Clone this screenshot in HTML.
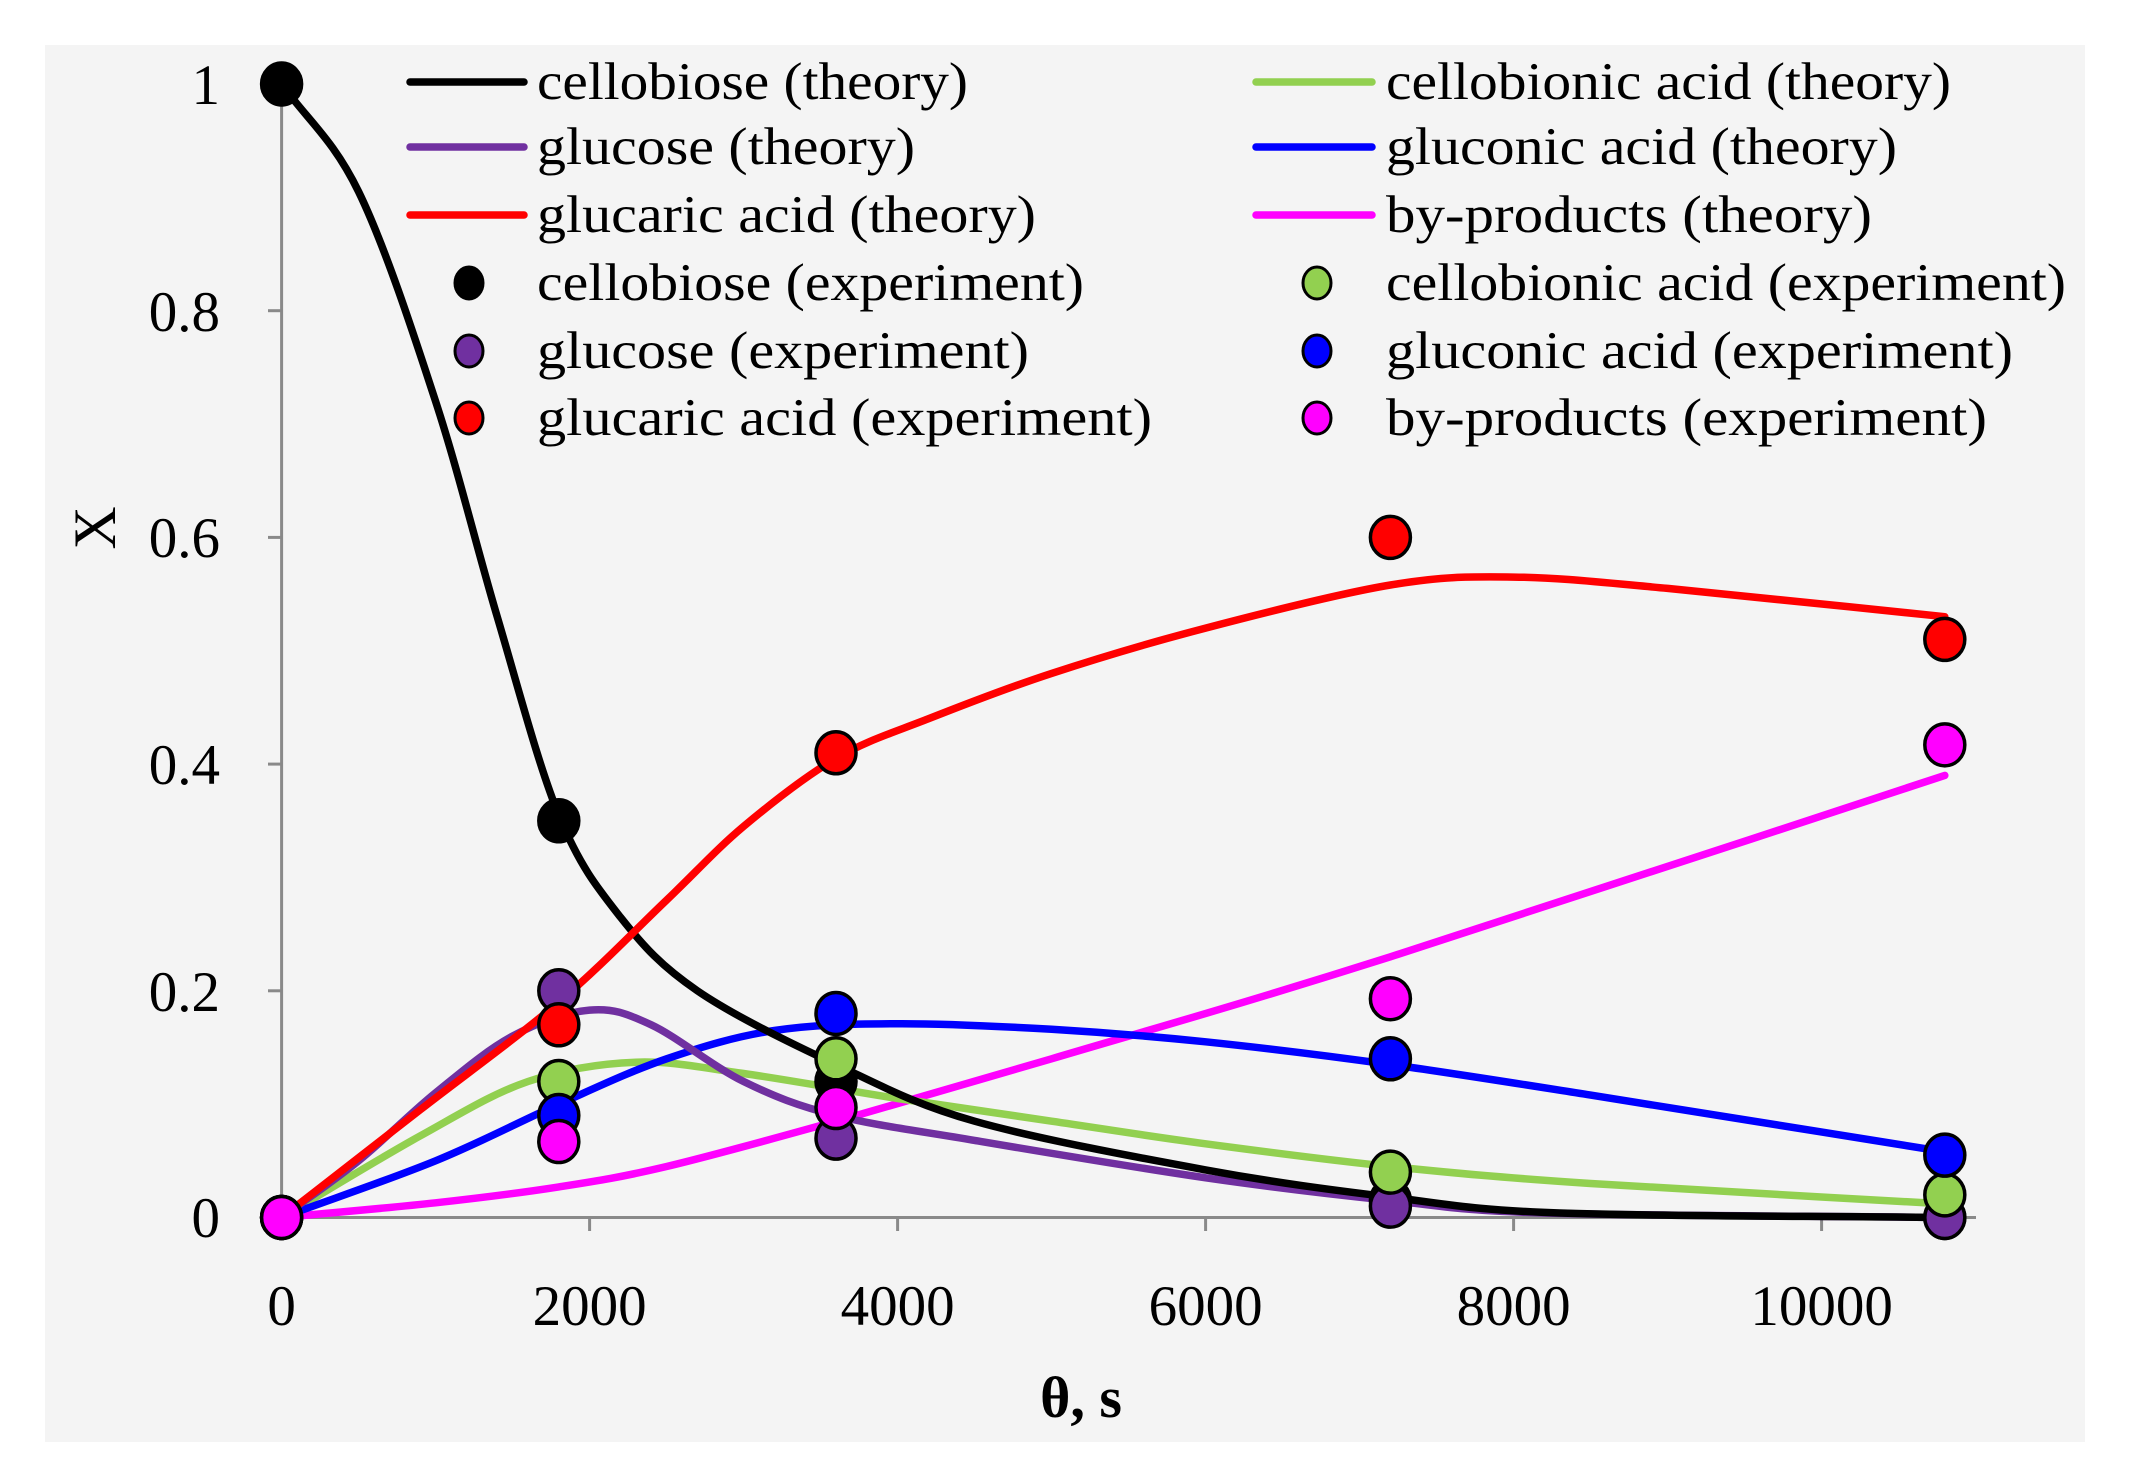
<!DOCTYPE html>
<html><head><meta charset="utf-8"><style>
html,body{margin:0;padding:0;background:#fff;}
svg{display:block;}
text{font-family:"Liberation Serif",serif;fill:#000;}
</style></head><body>
<svg id="s" width="2133" height="1472" viewBox="0 0 2133 1472" xmlns="http://www.w3.org/2000/svg">
<rect x="45" y="45" width="2040" height="1397" fill="#f4f4f4"/>
<g stroke="#898989" stroke-width="3">
<line x1="281.6" y1="84" x2="281.6" y2="1217.5"/>
<line x1="281.6" y1="1217.5" x2="1976" y2="1217.5"/>
<line x1="268" y1="84" x2="281.6" y2="84"/>
<line x1="268" y1="310.7" x2="281.6" y2="310.7"/>
<line x1="268" y1="537.4" x2="281.6" y2="537.4"/>
<line x1="268" y1="764.1" x2="281.6" y2="764.1"/>
<line x1="268" y1="990.8" x2="281.6" y2="990.8"/>
<line x1="268" y1="1217.5" x2="281.6" y2="1217.5"/>
<line x1="281.6" y1="1217.5" x2="281.6" y2="1231"/>
<line x1="589.6" y1="1217.5" x2="589.6" y2="1231"/>
<line x1="897.6" y1="1217.5" x2="897.6" y2="1231"/>
<line x1="1205.6" y1="1217.5" x2="1205.6" y2="1231"/>
<line x1="1513.6" y1="1217.5" x2="1513.6" y2="1231"/>
<line x1="1821.6" y1="1217.5" x2="1821.6" y2="1231"/>
</g>
<g font-size="57" text-anchor="end">
<text x="220" y="104">1</text>
<text x="220" y="331">0.8</text>
<text x="220" y="557">0.6</text>
<text x="220" y="784">0.4</text>
<text x="220" y="1011">0.2</text>
<text x="220" y="1237">0</text>
</g>
<g font-size="57" text-anchor="middle">
<text x="281.6" y="1325">0</text>
<text x="589.6" y="1325">2000</text>
<text x="897.6" y="1325">4000</text>
<text x="1205.6" y="1325">6000</text>
<text x="1513.6" y="1325">8000</text>
<text x="1821.6" y="1325">10000</text>
</g>
<text x="1081" y="1417" font-size="58" font-weight="bold" text-anchor="middle">θ, s</text>
<text transform="translate(115,528) rotate(-90)" font-size="60" text-anchor="middle">X</text>
<g id="curves" fill="none" stroke-width="7.5" stroke-linecap="round" stroke-linejoin="round"></g>
<g id="marks" stroke="#000" stroke-width="3.5"></g>
<g stroke-width="7.5" stroke-linecap="round">
<line x1="410" y1="82" x2="524" y2="82" stroke="#000"/>
<line x1="410" y1="147" x2="524" y2="147" stroke="#7030a0"/>
<line x1="410" y1="215" x2="524" y2="215" stroke="#ff0000"/>
<line x1="1256" y1="82" x2="1372" y2="82" stroke="#92d050"/>
<line x1="1256" y1="147" x2="1372" y2="147" stroke="#0000ff"/>
<line x1="1256" y1="215" x2="1372" y2="215" stroke="#ff00ff"/>
</g>
<g stroke="#000" stroke-width="3">
<ellipse cx="469" cy="283" rx="14" ry="16" fill="#000"/>
<ellipse cx="469" cy="351" rx="14" ry="16" fill="#7030a0"/>
<ellipse cx="469" cy="418" rx="14" ry="16" fill="#ff0000"/>
<ellipse cx="1317" cy="283" rx="14" ry="16" fill="#92d050"/>
<ellipse cx="1317" cy="351" rx="14" ry="16" fill="#0000ff"/>
<ellipse cx="1317" cy="418" rx="14" ry="16" fill="#ff00ff"/>
</g>
<g font-size="53">
<text x="537" y="99" textLength="431" lengthAdjust="spacingAndGlyphs">cellobiose (theory)</text>
<text x="537" y="164" textLength="378" lengthAdjust="spacingAndGlyphs">glucose (theory)</text>
<text x="537" y="232" textLength="499" lengthAdjust="spacingAndGlyphs">glucaric acid (theory)</text>
<text x="537" y="300" textLength="547" lengthAdjust="spacingAndGlyphs">cellobiose (experiment)</text>
<text x="537" y="368" textLength="492" lengthAdjust="spacingAndGlyphs">glucose (experiment)</text>
<text x="537" y="435" textLength="615" lengthAdjust="spacingAndGlyphs">glucaric acid (experiment)</text>
<text x="1386" y="99" textLength="565" lengthAdjust="spacingAndGlyphs">cellobionic acid (theory)</text>
<text x="1386" y="164" textLength="511" lengthAdjust="spacingAndGlyphs">gluconic acid (theory)</text>
<text x="1386" y="232" textLength="486" lengthAdjust="spacingAndGlyphs">by-products (theory)</text>
<text x="1386" y="300" textLength="680" lengthAdjust="spacingAndGlyphs">cellobionic acid (experiment)</text>
<text x="1386" y="368" textLength="627" lengthAdjust="spacingAndGlyphs">gluconic acid (experiment)</text>
<text x="1386" y="435" textLength="601" lengthAdjust="spacingAndGlyphs">by-products (experiment)</text>
</g>
</svg>
<script>
(function(){
var NS="http://www.w3.org/2000/svg";
function X(t){return 281.6+t*154;}
function Y(v){return 1217.5-v*1133.5;}
function path(pts){
 var p=pts.map(function(a){return [X(a[0]),Y(a[1])];});
 var d="M"+p[0][0].toFixed(1)+","+p[0][1].toFixed(1);
 var n=p.length;
 for(var i=0;i<n-1;i++){
  var p1=p[i],p2=p[i+1];
  var p0=i>0?p[i-1]:[2*p[0][0]-p[1][0],2*p[0][1]-p[1][1]];
  var p3=i+2<n?p[i+2]:[2*p[n-1][0]-p[n-2][0],2*p[n-1][1]-p[n-2][1]];
  var c1=[p1[0]+(p2[0]-p0[0])/6,p1[1]+(p2[1]-p0[1])/6];
  var c2=[p2[0]-(p3[0]-p1[0])/6,p2[1]-(p3[1]-p1[1])/6];
  d+=" C"+c1[0].toFixed(1)+","+c1[1].toFixed(1)+" "+c2[0].toFixed(1)+","+c2[1].toFixed(1)+" "+p2[0].toFixed(1)+","+p2[1].toFixed(1);
 }
 return d;
}
var curves=[
["#ff00ff",[[0,0],[1,0.013],[1.8,0.027],[2.5,0.045],[3.6,0.085],[5,0.14],[7.2,0.23],[10.8,0.39]]],
["#92d050",[[0,0],[0.9,0.072],[1.6,0.12],[2.3,0.137],[3,0.127],[4,0.105],[5,0.085],[6,0.065],[7.2,0.045],[8.5,0.03],[10.8,0.012]]],
["#0000ff",[[0,0],[1,0.05],[1.8,0.1],[2.5,0.14],[3.2,0.165],[4,0.171],[5,0.166],[6,0.155],[7.2,0.135],[8.5,0.108],[10.8,0.058]]],
["#7030a0",[[0,0],[0.5,0.05],[1.0,0.11],[1.5,0.16],[2.0,0.183],[2.4,0.17],[3.0,0.12],[3.6,0.09],[4.5,0.068],[6,0.035],[7.2,0.015],[8.2,0.004],[10.8,0]]],
["#000000",[[0,1],[0.5,0.905],[1.0,0.72],[1.4,0.53],[1.8,0.355],[2.2,0.265],[2.7,0.2],[3.6,0.135],[4.5,0.085],[6,0.042],[7.2,0.018],[8.3,0.004],[10.8,0]]],
["#ff0000",[[0,0],[0.9,0.095],[1.8,0.19],[2.5,0.28],[3.0,0.345],[3.6,0.405],[4.2,0.44],[5,0.48],[6,0.52],[7.2,0.558],[8,0.565],[9,0.555],[10.8,0.53]]]
];
var g=document.getElementById("curves");
curves.forEach(function(c){var e=document.createElementNS(NS,"path");e.setAttribute("d",path(c[1]));e.setAttribute("stroke",c[0]);g.appendChild(e);});
var T=[0,1.8,3.6,7.2,10.8];
var marks=[
["#000000",[1,0.35,0.12,0.015,0]],
["#7030a0",[0,0.2,0.07,0.01,0]],
["#92d050",[0,0.12,0.14,0.04,0.02]],
["#0000ff",[0,0.09,0.18,0.14,0.055]],
["#ff0000",[0,0.17,0.41,0.6,0.51]],
["#ff00ff",[0,0.067,0.097,0.193,0.417]]
];
var m=document.getElementById("marks");
marks.forEach(function(s){s[1].forEach(function(v,i){var e=document.createElementNS(NS,"ellipse");e.setAttribute("cx",X(T[i]));e.setAttribute("cy",Y(v));e.setAttribute("rx",20);e.setAttribute("ry",21);e.setAttribute("fill",s[0]);m.appendChild(e);});});
})();
</script>
</body></html>
